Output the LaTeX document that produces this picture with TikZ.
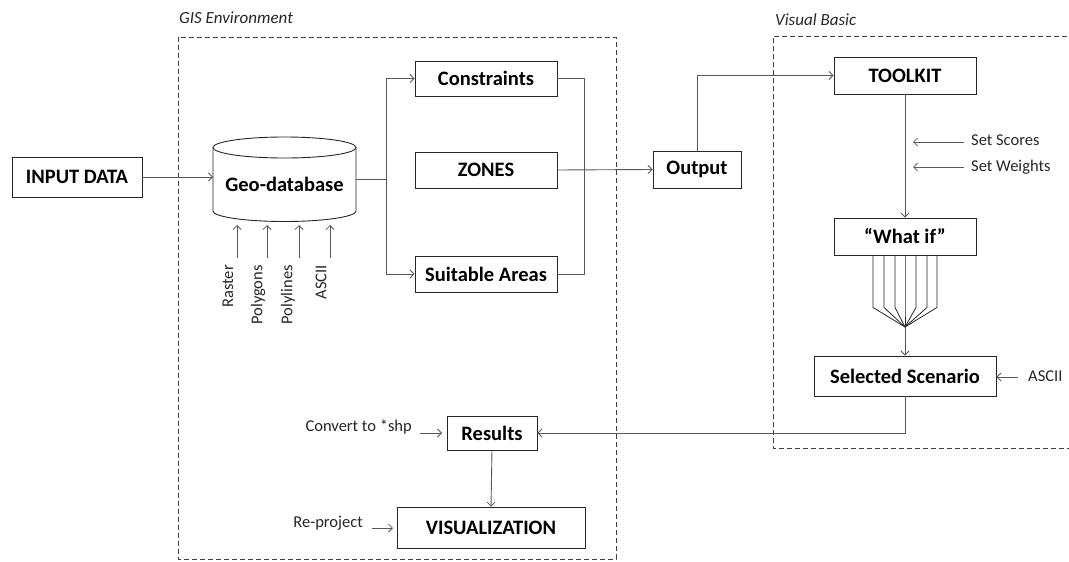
\documentclass[tikz,border=0pt]{standalone}
\usepackage{fontspec}
\setmainfont{Carlito}
\usetikzlibrary{arrows.meta,calc}
\tikzset{
  box/.style={draw=black!85, line width=0.9pt, fill=white, inner sep=0pt, font=\fontsize{20.5}{24}\selectfont\bfseries},
  lab/.style={inner sep=0pt, font=\fontsize{16.5}{19}\selectfont, text=black!85},
  conn/.style={draw=black!65, line width=0.9pt},
  arr/.style={conn, -{Straight Barb[length=4pt,width=8pt,line width=0.8pt]}},
  region/.style={draw=black!75, line width=0.9pt, dash pattern=on 5pt off 3pt},
}
\begin{document}
\begin{tikzpicture}[x=1pt,y=-1pt]
\useasboundingbox (0,0) rectangle (1069,562);
% regions
\draw[region] (178,37) rectangle (616,559);
\draw[region] (1075,36) -- (773,36) -- (773,448) -- (1075,448);
\node[lab, anchor=west, font=\fontsize{17}{19}\selectfont\itshape] (gisl) at (179,18) {GIS Environment};
\node[lab, anchor=west, font=\fontsize{17}{19}\selectfont\itshape] (vbl) at (775,20) {Visual Basic};
% nodes
\node[box, minimum width=130pt, minimum height=40pt] (input) at (77,177) {INPUT DATA};
% cylinder
\draw[draw=black!85, line width=0.9pt, fill=white] (213,147.5) -- (213,211) arc[start angle=180, end angle=360, x radius=71.5pt, y radius=10.5pt] -- (356,147.5);
\draw[draw=black!85, line width=0.9pt] (284.5,147.5) ellipse [x radius=71.5pt, y radius=10.5pt];
\node[lab, font=\fontsize{20.5}{24}\selectfont\bfseries, text=black] (geo) at (284.5,184) {Geo-database};
\coordinate (geoW) at (213,177);
\coordinate (geoE) at (356,179);
\coordinate (split) at (386,179);
\node[box, minimum width=142pt, minimum height=35pt] (cons) at (486,78.5) {Constraints};
\node[box, minimum width=142pt, minimum height=36pt] (zones) at (486,170) {ZONES};
\node[box, minimum width=142pt, minimum height=36pt] (suit) at (486,274) {Suitable Areas};
\node[box, minimum width=88pt, minimum height=37pt] (out) at (697,169.5) {Output};
\node[box, minimum width=142pt, minimum height=37pt] (tool) at (905,75.5) {TOOLKIT};
\node[box, minimum width=142pt, minimum height=37pt] (what) at (905,236.5) {``What if''};
\node[box, minimum width=182pt, minimum height=40pt] (sel) at (905,376) {Selected Scenario};
\node[box, minimum width=90pt, minimum height=34pt] (res) at (492,433) {Results};
\node[box, minimum width=188pt, minimum height=41pt] (vis) at (491,527.5) {VISUALIZATION};
% connectors
\draw[arr] (input.east) -- (geoW);
\draw[conn] (geoE) -- (split);
\draw[conn] (split |- cons.west) -- (split |- suit.west);
\draw[arr] (split |- cons.west) -- (cons.west);
\draw[arr] (split |- suit.west) -- (suit.west);
\coordinate (merge) at (584,0);
\draw[conn] (cons.east) -- (merge |- cons.east) -- (merge |- suit.east) -- (suit.east);
\draw[arr] (zones.east) -- (out.west);
\draw[arr] (out.north) |- (tool.west);
\draw[arr] (tool.south) -- (what.north);
% side inputs
\node[lab, anchor=west] (ss) at (971,140) {Set Scores};
\node[lab, anchor=west] (sw) at (971,167) {Set Weights};
\coordinate (ssS) at (964,142);
\coordinate (ssE) at (913,142);
\coordinate (swS) at (964,167);
\coordinate (swE) at (913,167);
\draw[arr] (ssS) -- (ssE);
\draw[arr] (swS) -- (swE);
% fan
\coordinate (conv) at (905,327);
\foreach \dx in {-32,-21,-10,0,11,22,32} {
  \draw[draw=black!85, line width=0.8pt] ($(what.south)+(\dx,0)$) -- ++(0,52) -- (conv);
}
\draw[arr] (conv) -- (sel.north);
\node[lab, anchor=west] (asc) at (1028,376) {ASCII};
\coordinate (ascS) at (1018,377);
\draw[arr] (ascS) -- (sel.east |- ascS);
\draw[arr] (sel.south) |- (res.east);
\node[lab, anchor=east] (conv2) at (412,427) {Convert to *shp};
\coordinate (cvS) at (420,433);
\coordinate (cvE) at (442,433);
\draw[arr] (cvS) -- (cvE);
\draw[arr] (res.south) -- (vis.north);
\node[lab, anchor=east] (rep) at (363,523) {Re-project};
\coordinate (rpS) at (372,528);
\coordinate (rpE) at (393,528);
\draw[arr] (rpS) -- (rpE);
% database sources
\foreach \n/\t/\lx/\ax in {r/Raster/228/237, p/Polygons/258/267, l/Polylines/288/299, a/ASCII/321/330} {
  \node[lab, rotate=90, anchor=east] (\n) at (\lx,265) {\t};
  \coordinate (\n s) at (\ax,258);
  \coordinate (\n e) at (\ax,225);
  \draw[arr] (\n s) -- (\n e);
}
\end{tikzpicture}
\end{document}
